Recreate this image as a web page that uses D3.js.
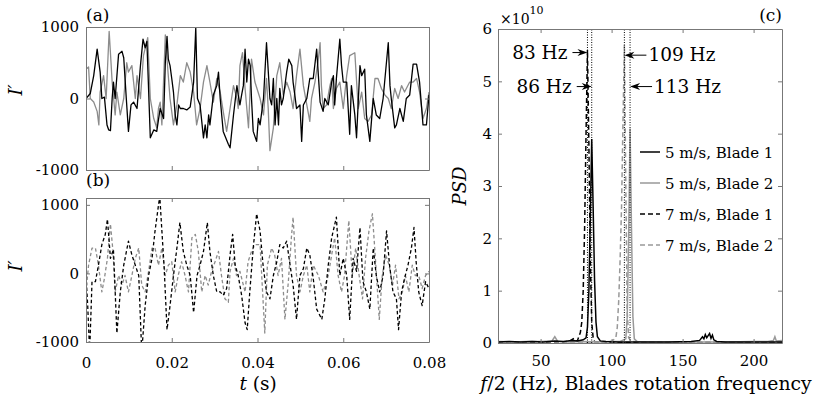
<!DOCTYPE html>
<html>
<head>
<meta charset="utf-8">
<script src="https://cdn.jsdelivr.net/npm/d3@7"></script>
<style>
  body { margin: 0; background: #fff; }
  text { font-family: "DejaVu Serif", serif; fill: #000; }
</style>
</head>
<body>
<svg id="fig" width="830" height="399"></svg>
<script>
// ---- panel (a): 5 m/s, time in ms, I' values
const tA1 = [0,1.0,1.8,2.6,3.3,3.7,4.3,4.9,5.3,5.7,6.1,6.4,6.8,7.6,8.4,8.8,9.4,9.9,10.5,11.1,11.9,12.7,13.3,13.8,14.2,15.0,15.8,16.5,17.3,18.1,18.5,18.9,19.2,19.6,20.0,20.4,20.8,21.2,21.6,22.0,22.7,23.5,24.3,25.1,25.6,26.0,26.6,27.4,27.8,28.2,28.6,28.9,29.7,30.5,30.9,31.3,32.0,33.2,33.6,34.4,35.2,35.5,35.9,36.3,36.7,37.1,37.5,37.9,38.3,38.6,39.0,39.8,40.2,40.6,41.4,42.1,42.9,43.3,43.7,44.1,44.5,44.9,45.2,45.6,46.0,46.8,47.3,48.0,48.3,48.7,49.1,49.9,50.3,50.7,51.5,52.2,53.0,53.8,54.2,54.6,55.3,55.7,56.5,57.3,57.7,58.0,58.4,59.2,59.6,60.0,60.8,61.5,61.9,62.7,63.1,63.9,64.3,65.0,65.4,66.2,67.0,67.7,68.5,69.3,70.5,70.9,71.2,72.0,72.4,73.2,74.0,74.7,75.5,76.3,77.1,77.8,78.6,79.4,80];
const vA1 = [0,70,320,690,370,0,20,-370,-440,-450,0,230,0,620,660,570,0,-460,-90,-50,-140,460,830,710,800,-550,-440,-460,-140,-280,500,870,550,460,280,90,-230,-370,-90,-140,-140,-160,-120,230,990,0,-90,-550,-370,-550,-230,-370,50,180,370,0,-460,-640,-690,-230,180,50,-90,50,180,690,230,550,460,0,-460,-600,-280,-370,0,780,0,-90,280,-370,0,-370,140,-90,0,370,550,460,230,50,-140,-90,-600,-90,0,280,280,690,320,-50,-180,0,-90,230,320,-90,280,830,460,230,230,-500,180,-230,-550,460,320,410,-230,-600,0,-230,-280,0,780,180,0,-410,-370,-140,-320,0,50,480,480,230,-370,-370,50];
const tA2 = [0,0.6,1.0,1.8,2.6,3.0,3.3,4.1,4.7,5.4,6.1,6.8,7.2,8.0,8.8,9.5,9.9,10.7,11.5,11.9,12.7,13.4,14.4,15.0,15.8,16.5,16.9,17.3,17.7,18.5,18.9,19.6,20.4,21.2,22.0,22.7,23.5,24.3,25.1,25.8,26.6,27.4,28.2,28.9,29.7,30.5,31.3,32.0,32.8,33.6,34.4,35.2,35.5,35.9,36.5,37.1,37.9,38.6,39.4,40.6,41.4,42.1,42.5,42.9,43.7,44.5,45.2,46.0,46.8,47.6,48.3,49.1,49.9,50.7,51.5,52.2,52.6,53.4,54.2,54.6,54.9,55.3,56.1,56.9,57.3,57.7,58.4,59.2,60.0,60.8,61.5,62.7,63.5,64.3,65.0,65.8,66.6,67.4,68.1,68.9,69.7,70.5,71.2,72.0,72.8,73.6,74.3,75.5,76.3,77.1,77.8,78.6,79.4,80];
const vA2 = [410,440,0,-50,-180,-370,90,320,0,940,230,-230,90,-230,0,500,370,460,0,320,0,600,850,0,-280,-410,-140,-50,-370,890,550,0,-370,-90,320,230,500,370,90,-370,-140,230,460,230,-50,280,90,-180,-460,-140,180,0,-140,460,640,140,-410,550,230,0,-230,280,-140,-730,-410,320,500,50,230,90,-140,320,690,180,-90,-320,0,230,550,780,180,-140,-90,180,280,-140,140,230,-140,320,600,640,-140,90,-280,-320,-230,280,280,140,50,0,-140,140,0,180,90,230,230,280,90,-280,-140,90];

// ---- panel (b): 7 m/s
const tB1 = [0,0.4,0.85,1.4,2.2,2.9,3.7,4.5,5.0,5.7,6.4,7.2,8.0,8.8,9.9,10.7,11.5,12.3,13.0,13.8,14.6,15.4,16.1,17.2,17.7,18.2,18.9,19.6,20.4,21.2,21.9,22.7,23.5,24.3,25.1,25.9,26.6,27.4,28.3,28.9,29.7,30.5,31.3,32.0,32.8,33.6,34.2,34.8,35.5,36.3,37.1,37.6,38.2,39.0,39.8,40.6,41.3,42.1,42.9,43.7,44.5,45.2,46.0,46.8,47.6,48.3,49.1,49.9,50.7,51.5,52.2,53.0,53.8,55.0,55.7,56.5,57.3,58.4,59.2,60.0,60.8,61.5,62.3,63.1,63.9,64.6,65.4,66.2,67.0,67.7,68.5,69.3,70.1,70.8,71.6,72.4,72.9,73.6,74.3,75.1,75.9,76.5,77.0,77.6,78.4,79.2,80];
const vB1 = [-30,-470,-1150,-120,-120,120,420,570,790,220,350,-870,-270,120,470,270,120,-30,-1150,-470,-30,220,620,1130,620,120,-820,-470,-30,370,740,320,120,-30,-570,-30,120,320,740,320,-30,-270,-270,-320,-220,270,570,120,-30,-320,-720,-820,-270,370,870,620,120,-270,-370,-30,170,420,370,470,120,-170,-670,-30,70,370,270,-70,-520,-670,-370,120,520,820,-30,220,-30,-670,220,30,670,-120,-270,-520,370,-30,-270,-30,620,120,-270,-370,-820,-270,-70,120,370,670,170,-270,-470,-120,-220];
const tB2 = [0,0.6,1.4,2.2,2.9,3.7,4.3,5.0,5.7,6.3,6.8,7.6,8.4,9.1,9.9,10.7,11.5,12.3,13.0,13.8,14.6,15.4,16.1,16.9,17.7,18.5,19.2,20.0,20.8,21.5,22.3,23.1,23.9,24.7,25.5,26.2,27.0,27.8,28.5,29.3,30.1,30.9,31.6,32.4,33.2,33.6,34.4,35.1,35.9,37.1,37.8,38.6,39.4,40.6,41.7,42.3,43.3,44.0,44.8,45.6,46.4,47.2,47.9,48.3,49.1,49.9,50.7,51.5,52.2,53.0,54.2,55.3,56.5,57.3,58.0,58.8,59.6,60.3,61.3,62.1,62.9,63.7,64.5,65.2,66.0,66.8,67.6,68.4,69.1,69.9,70.7,71.5,72.2,73.0,73.8,74.5,75.3,76.1,76.8,77.6,78.4,79.2,80];
const vB2 = [-270,120,370,370,120,-270,-70,220,720,320,-270,-30,-170,-30,-270,-30,220,370,-170,-270,30,370,370,120,370,-30,120,170,-270,-30,170,-30,-270,520,570,320,-270,-30,-170,30,170,320,-30,-370,-420,30,220,-30,30,-270,170,320,420,420,-870,120,370,270,-30,220,-670,-120,520,820,-30,-270,-30,120,-270,120,-30,-270,-30,270,520,-30,-270,-30,770,-30,370,-30,-370,220,620,870,120,-670,-30,270,120,-170,120,-370,-270,-30,-270,120,-30,-30,-220,-30,30];

// ---- panel (c): PSD (x1e10) against f/2 (Hz)
const seriesNames = ["5 m/s, Blade 1", "5 m/s, Blade 2", "7 m/s, Blade 1", "7 m/s, Blade 2"];
const fC1 = [20,28,36,44,52,60,66,72,76,80,82,83,84,85,86,87,88,89,90,92,96,104,120,140,156,162,164,165,166,167,168,169,170,171,172,174,180,196,210,220];
const pC1 = [0.02,0.03,0.02,0.03,0.02,0.04,0.03,0.05,0.04,0.06,0.1,0.3,1.0,2.4,3.9,2.6,1.2,0.4,0.12,0.04,0.03,0.02,0.02,0.02,0.03,0.05,0.12,0.08,0.16,0.1,0.14,0.18,0.09,0.15,0.06,0.03,0.02,0.02,0.02,0.02];
const fC2 = [20,30,40,50,58,60,62,70,80,90,100,106,110,111,112,113,114,115,116,118,124,140,160,180,200,210,214,215,216,220];
const pC2 = [0.03,0.02,0.03,0.03,0.04,0.12,0.03,0.02,0.03,0.02,0.03,0.03,0.08,0.5,2.0,4.1,2.2,0.5,0.08,0.03,0.02,0.02,0.02,0.02,0.03,0.03,0.05,0.12,0.04,0.05];
const fC3 = [20,30,40,50,60,66,70,73,74,76,78,79,80,81,82,83,84,85,86,87,88,92,100,120,140,160,180,200,220];
const pC3 = [0.01,0.01,0.02,0.01,0.02,0.02,0.03,0.08,0.03,0.05,0.2,0.4,1.0,2.2,4.0,5.6,3.8,1.6,0.4,0.1,0.03,0.02,0.01,0.01,0.01,0.01,0.01,0.01,0.01];
const fC4 = [20,40,60,80,96,100,103,104,105,106,107,108,109,110,111,112,114,120,140,160,180,200,220];
const pC4 = [0.01,0.02,0.02,0.02,0.02,0.03,0.1,0.3,0.8,1.6,2.6,4.2,5.7,3.0,0.6,0.1,0.03,0.02,0.02,0.02,0.02,0.02,0.02];
const peakFreqs = [83, 86, 109, 113];
const peakLabels = ["83 Hz", "86 Hz", "109 Hz", "113 Hz"];
const peakLabelY = [5.55, 4.9, 5.5, 4.9];

const tTicks = [0, 0.02, 0.04, 0.06, 0.08];
const iTicks = [-1000, 0, 1000];
const fTicks = [50, 100, 150, 200];
const pTicks = [0, 1, 2, 3, 4, 5, 6];

const svg = d3.select("#fig");
const axisColor = "#777";

function styleAxis(g, size) {
  g.select(".domain").attr("stroke", axisColor);
  g.selectAll(".tick line").attr("stroke", axisColor);
  g.selectAll("text").attr("font-family", "DejaVu Serif, serif").attr("font-size", size).attr("fill", "#000");
}

// box with inward ticks on all four sides
function frame(x, y, xt, yt, xfmt, yfmt, xpad, ypad, fs) {
  const [x0, x1] = x.range(), [y0, y1] = y.range();
  const g = svg.append("g");
  g.append("g").attr("transform", `translate(0,${y0})`)
    .call(d3.axisBottom(x).tickValues(xt).tickSize(-4).tickSizeOuter(0).tickPadding(xpad).tickFormat(xfmt))
    .call(s => styleAxis(s, fs));
  g.append("g").attr("transform", `translate(0,${y1})`)
    .call(d3.axisTop(x).tickValues(xt).tickSize(-4).tickSizeOuter(0).tickFormat(""))
    .call(s => styleAxis(s, fs));
  g.append("g").attr("transform", `translate(${x0},0)`)
    .call(d3.axisLeft(y).tickValues(yt).tickSize(-4).tickSizeOuter(0).tickPadding(ypad).tickFormat(yfmt))
    .call(s => styleAxis(s, fs));
  g.append("g").attr("transform", `translate(${x1},0)`)
    .call(d3.axisRight(y).tickValues(yt).tickSize(-4).tickSizeOuter(0).tickFormat(""))
    .call(s => styleAxis(s, fs));
}

function clip(id, x, y) {
  svg.append("clipPath").attr("id", id).append("rect")
    .attr("x", x.range()[0]).attr("y", y.range()[1])
    .attr("width", x.range()[1] - x.range()[0]).attr("height", y.range()[0] - y.range()[1]);
}

// ---------- panels (a) and (b)
const xT = d3.scaleLinear().domain([0, 0.08]).range([86, 429]);
const yA = d3.scaleLinear().domain([-1000, 1000]).range([170, 27]);
const yB = d3.scaleLinear().domain([-1000, 1100]).range([342, 198]);
const tFmt = d => d === 0 ? "0" : d.toFixed(2);

function timePanel(id, y, series, showX, letter, letterY, labelY) {
  clip(id, xT, y);
  const line = d3.line().x(d => xT(d[0] / 1000)).y(d => y(d[1]));
  series.forEach(s => {
    svg.append("path").datum(d3.zip(s.t, s.v))
      .attr("clip-path", `url(#${id})`)
      .attr("fill", "none").attr("stroke", s.color).attr("stroke-width", 1.3)
      .attr("stroke-linejoin", "round")
      .attr("stroke-dasharray", s.dash || null)
      .attr("d", line);
  });
  frame(xT, y, tTicks, iTicks, showX ? tFmt : "", d => String(d), 15, 7, 15);
  svg.append("text").attr("x", 86).attr("y", letterY).attr("font-size", 17).text(letter);
  svg.append("text").attr("transform", `translate(22,${labelY}) rotate(-90)`)
    .attr("text-anchor", "middle").attr("font-size", 18).attr("font-style", "italic").text("I\u2032");
}

timePanel("clipA", yA, [
  { t: tA2, v: vA2, color: "#8c8c8c" },
  { t: tA1, v: vA1, color: "#000" }
], false, "(a)", 21, 90);

timePanel("clipB", yB, [
  { t: tB2, v: vB2, color: "#8c8c8c", dash: "3.5,2.5" },
  { t: tB1, v: vB1, color: "#000", dash: "3.5,2.5" }
], true, "(b)", 186, 266);

const tLabel = svg.append("text").attr("x", 258).attr("y", 390).attr("text-anchor", "middle").attr("font-size", 18.5);
tLabel.append("tspan").attr("font-style", "italic").text("t");
tLabel.append("tspan").text(" (s)");

// ---------- panel (c)
const xF = d3.scaleLinear().domain([20, 220]).range([498, 782]);
const yP = d3.scaleLinear().domain([0, 6]).range([343, 29]);
clip("clipC", xF, yP);

const psd = [
  { f: fC1, p: pC1, color: "#000", dash: null },
  { f: fC2, p: pC2, color: "#999", dash: null },
  { f: fC3, p: pC3, color: "#000", dash: "5,3" },
  { f: fC4, p: pC4, color: "#999", dash: "5,3" }
];
const pLine = d3.line().x(d => xF(d[0])).y(d => yP(d[1]));
[2, 3, 1, 0].forEach(i => {
  const s = psd[i];
  svg.append("path").datum(d3.zip(s.f, s.p))
    .attr("clip-path", "url(#clipC)")
    .attr("fill", "none").attr("stroke", s.color).attr("stroke-width", 1.5)
    .attr("stroke-dasharray", s.dash)
    .attr("d", pLine);
});

// dotted markers at peak frequencies
svg.selectAll(".peak").data(peakFreqs).enter().append("line")
  .attr("x1", d => xF(d)).attr("x2", d => xF(d))
  .attr("y1", yP(0)).attr("y2", yP(6))
  .attr("stroke", "#000").attr("stroke-width", 1).attr("stroke-dasharray", "1,1.5");

frame(xF, yP, fTicks, pTicks, d => String(d), d => String(d), 12, 6, 15);

// annotation arrows
function arrow(xa, xb, yv) {
  const dir = xb > xa ? 1 : -1;
  svg.append("line").attr("x1", xa).attr("x2", xb - dir * 6).attr("y1", yv).attr("y2", yv)
    .attr("stroke", "#000").attr("stroke-width", 1);
  svg.append("path")
    .attr("d", `M${xb},${yv} L${xb - dir * 10},${yv - 3.5} L${xb - dir * 7},${yv} L${xb - dir * 10},${yv + 3.5} Z`)
    .attr("fill", "#000");
}
peakFreqs.forEach((f, i) => {
  const yv = yP(peakLabelY[i]);
  const left = f < 100;
  if (left) {
    arrow(xF(f) - 15, xF(f), yv);
    svg.append("text").attr("x", xF(f) - 20).attr("y", yv + 6).attr("text-anchor", "end")
      .attr("font-size", 18.5).text(peakLabels[i]);
  } else {
    const xt = xF(f) + 22;
    arrow(xt, xF(f), yv);
    svg.append("text").attr("x", xt + 2).attr("y", yv + 6).attr("font-size", 18.5).text(peakLabels[i]);
  }
});

// legend
const legend = svg.append("g");
seriesNames.forEach((name, i) => {
  const ly = 152 + i * 31;
  legend.append("line").attr("x1", 640).attr("x2", 660).attr("y1", ly).attr("y2", ly)
    .attr("stroke", psd[i].color).attr("stroke-width", 1.5).attr("stroke-dasharray", psd[i].dash);
  legend.append("text").attr("x", 665).attr("y", ly + 5.5).attr("font-size", 15).text(name);
});

// exponent, labels
const ex = svg.append("text").attr("x", 500).attr("y", 24).attr("font-size", 14);
ex.append("tspan").text("\u00d710");
ex.append("tspan").attr("font-size", 11).attr("dy", -10).text("10");
svg.append("text").attr("x", 782).attr("y", 21).attr("text-anchor", "end").attr("font-size", 17).text("(c)");
svg.append("text").attr("transform", "translate(466,186) rotate(-90)").attr("text-anchor", "middle")
  .attr("font-size", 18).attr("font-style", "italic").text("PSD");
const fLabel = svg.append("text").attr("x", 646).attr("y", 390).attr("text-anchor", "middle").attr("font-size", 18.8);
fLabel.append("tspan").attr("font-style", "italic").text("f");
fLabel.append("tspan").text("/2 (Hz), Blades rotation frequency");
</script>
</body>
</html>
